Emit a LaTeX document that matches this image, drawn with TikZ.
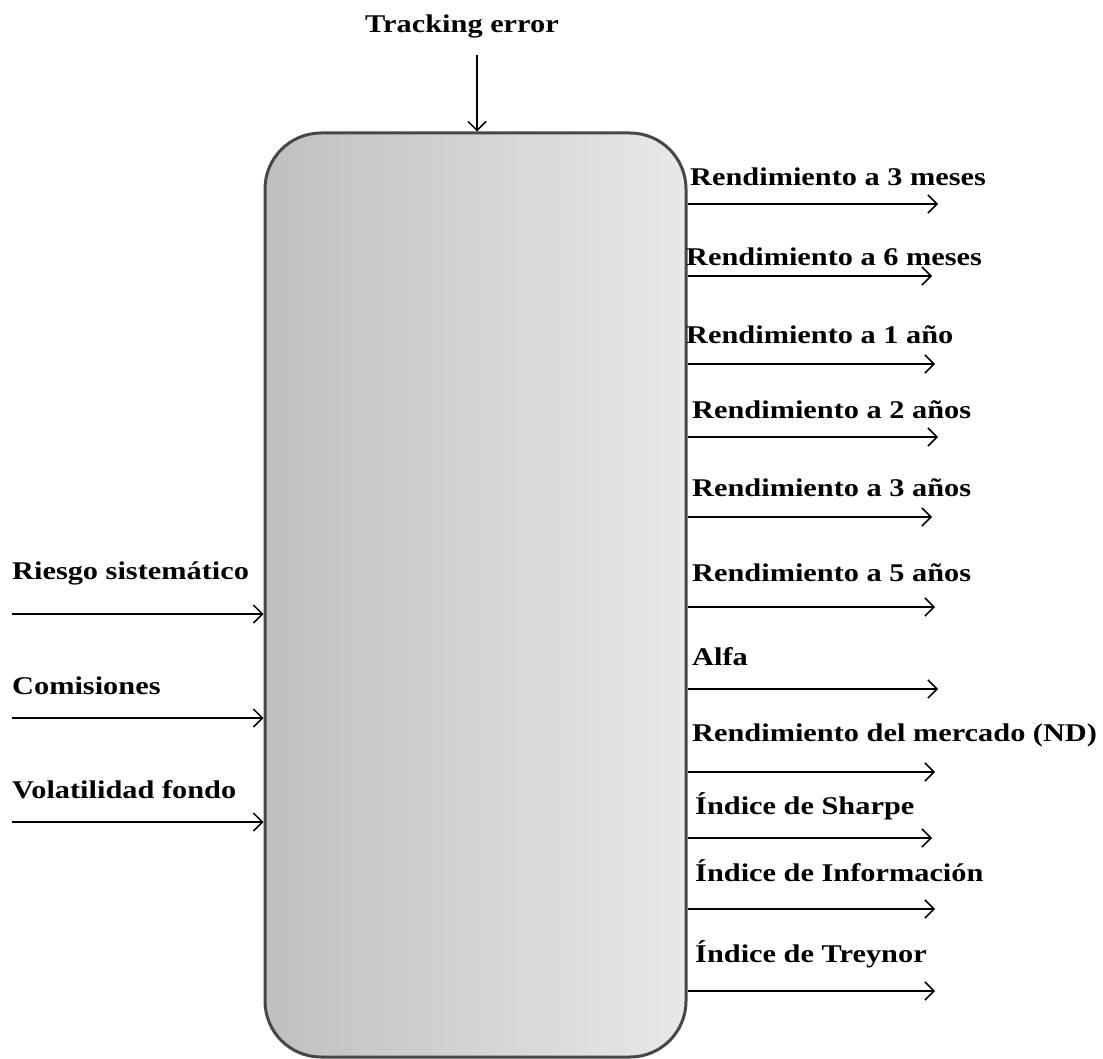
\documentclass[tikz,border=0pt]{standalone}
\usepackage{fontspec}
\setmainfont{Liberation Serif}
\newfontfamily\lblfont[FakeStretch=1.19]{Liberation Serif}
\usetikzlibrary{arrows.meta,shadows}
\begin{document}
\begin{tikzpicture}[x=1pt,y=-1pt,
  lbl/.style={anchor=base west,inner sep=0pt,font=\lblfont\fontsize{25.5}{30}\selectfont\bfseries},
  arr/.style={line width=1.5pt,-{Straight Barb[length=9pt,width=18pt,line width=1.5pt]}},
  fundbox/.style={draw=black!72,line width=3pt,rounded corners=56pt,
    left color=black!25,right color=black!9,
    minimum width=421pt,minimum height=924pt,inner sep=0pt}]
\useasboundingbox (0,0) rectangle (1103,1059);

% central block
\node[fundbox] (box) at (475.5,595) {};

% input from above
\node[lbl,anchor=base] (te) at (462,33) {Tracking error};
\coordinate (tes) at (477,55);
\draw[arr] (tes) -- (tes |- box.north);

% inputs from the left
\foreach \name/\txt/\ty/\ay in {
  rs/Riesgo sistemático/579/614,
  co/Comisiones/694/718,
  vf/Volatilidad fondo/798/822}{
  \node[lbl] (\name) at (12,\ty) {\txt};
  \coordinate (\name s) at (12,\ay);
  \draw[arr] (\name s) -- (box.west |- \name s);
}

% outputs to the right
\foreach \name/\txt/\tx/\ty/\ay/\ax in {
  o1/Rendimiento a 3 meses/690/186/204/938,
  o2/Rendimiento a 6 meses/686/266/276/932,
  o3/Rendimiento a 1 año/686/343/364/935,
  o4/Rendimiento a 2 años/692/418/437/938,
  o5/Rendimiento a 3 años/692/496/517/932,
  o6/Rendimiento a 5 años/692/581/607/935,
  o7/Alfa/692/665/689/938,
  o8/Rendimiento del mercado (ND)/692/741/772/935,
  o9/Índice de Sharpe/695/814/838/932,
  o10/Índice de Información/695/881/909/935,
  o11/Índice de Treynor/695/962/991/935}{
  \node[lbl] (\name) at (\tx,\ty) {\txt};
  \coordinate (\name e) at (\ax,\ay);
  \draw[arr] (box.east |- \name e) -- (\name e);
}
\end{tikzpicture}
\end{document}
